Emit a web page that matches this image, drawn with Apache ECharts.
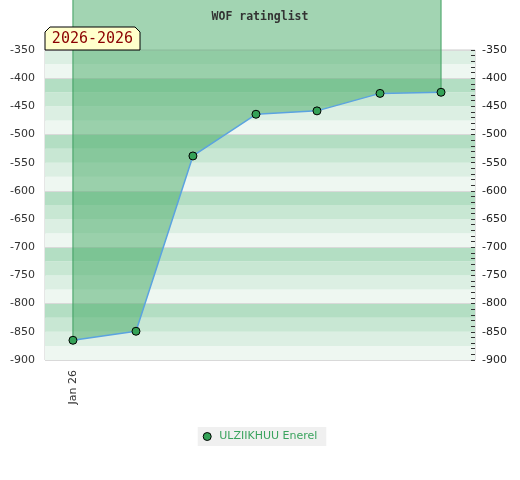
<!DOCTYPE html>
<html>
<head>
<meta charset="utf-8">
<script src="https://cdn.jsdelivr.net/npm/echarts@6/dist/echarts.min.js"></script>
<style>html,body{margin:0;padding:0;background:#fff;}#c{width:520px;height:480px;}</style>
</head>
<body>
<div id="c"></div>
<script>
// ---- data ----
const dates = ['2026-01-01','2026-02-01','2026-03-01','2026-04-01','2026-05-01','2026-06-01','2026-07-01'];
const ratings = [-865, -849, -538, -464, -458, -427, -425];
const seriesName = 'ULZIIKHUU Enerel';
const yTicks = [-900,-850,-800,-750,-700,-650,-600,-550,-500,-450,-400,-350];
const xTickDates = ['2026-01-01'];
const xTickLabels = ['Jan 26'];
const xMin = '2025-12-18 06:00';
const xMax = '2026-07-17 17:00';
const areaOrigin = 0;
const titleText = 'WOF ratinglist';
const periodText = '2026-2026';

function toTime(s){ const p = s.split(/[- :]/).map(Number); return new Date(p[0], p[1]-1, p[2], p[3]||0, p[4]||0).getTime(); }
const points = dates.map((d,i)=>[toTime(d), ratings[i]]);
const xTickValues = xTickDates.map(toTime);
const last = points.length - 1;

const chart = echarts.init(document.getElementById('c'));
const font = 'DejaVu Sans';
chart.setOption({
  animation: false,
  title: {
    text: titleText, left: 'center', top: 6, z: 50,
    textStyle: {fontFamily: 'DejaVu Sans Mono', fontWeight: 'bold', fontSize: 11.5, color: '#333'}
  },
  grid: {left: 45, right: 45, top: 50, bottom: 120, show: true, borderColor: '#cccccc', borderWidth: 1, backgroundColor: 'transparent'},
  xAxis: {
    type: 'time', min: toTime(xMin), max: toTime(xMax),
    axisLine: {show: false}, axisTick: {show: false}, splitLine: {show: false},
    axisLabel: {
      rotate: 90, margin: 10, hideOverlap: false, showMinLabel: false, showMaxLabel: false,
      fontFamily: font, fontSize: 11, color: '#333',
      formatter: function(v){ const t = (typeof v === 'object' && v) ? v.value : v; const i = xTickValues.indexOf(+t); return i >= 0 ? xTickLabels[i] : ''; }
    }
  },
  yAxis: [
    {
      type: 'value', position: 'left', min: yTicks[0], max: yTicks[yTicks.length-1], interval: 50,
      axisLine: {show: false}, axisTick: {show: false}, splitLine: {show: false},
      axisLabel: {fontFamily: font, fontSize: 11, color: '#333', margin: 10}
    },
    {
      type: 'value', position: 'right', min: yTicks[0], max: yTicks[yTicks.length-1], interval: 50,
      axisLine: {show: false},
      axisTick: {show: true, inside: true, length: 4, lineStyle: {color: '#333'}},
      minorTick: {show: true, splitNumber: 5, length: 4, lineStyle: {color: '#333'}},
      splitLine: {show: false},
      axisLabel: {fontFamily: font, fontSize: 11, color: '#222', margin: 7}
    },
    {
      type: 'value', position: 'left', min: yTicks[0], max: yTicks[yTicks.length-1], interval: 25,
      axisLine: {show: false}, axisTick: {show: false}, axisLabel: {show: false}, splitLine: {show: false},
      splitArea: {show: true, areaStyle: {color: ['#eef7f1', '#dcefe3', '#c8e7d3', '#b3dec3']}}
    },
    {
      type: 'value', position: 'left', min: yTicks[0], max: yTicks[yTicks.length-1], interval: 100,
      axisLine: {show: false}, axisTick: {show: false}, axisLabel: {show: false},
      splitLine: {show: true, lineStyle: {color: '#d9d9d9', width: 1}}
    }
  ],
  legend: {
    data: [seriesName], bottom: 34, left: 'center',
    backgroundColor: '#f0f0f0', padding: [3, 9, 3, 5],
    icon: 'circle', itemWidth: 14, itemHeight: 8,
    itemStyle: {borderColor: '#000', borderWidth: 1},
    textStyle: {fontFamily: font, fontSize: 11, color: '#3aa35e', lineHeight: 13}
  },
  series: [
    {
      name: 'edgeL', type: 'line', clip: false, silent: true, symbol: 'none', z: 2,
      data: [[points[0][0], areaOrigin], points[0]],
      lineStyle: {color: '#3a9a5c', width: 1}
    },
    {
      name: 'edgeR', type: 'line', clip: false, silent: true, symbol: 'none', z: 2,
      data: [[points[last][0], areaOrigin], points[last]],
      lineStyle: {color: '#3a9a5c', width: 1}
    },
    {
      name: seriesName, type: 'line', clip: false, z: 3,
      data: points,
      symbol: 'circle', symbolSize: 8,
      itemStyle: {color: '#34a257', borderColor: '#000', borderWidth: 1},
      lineStyle: {color: '#5ba3e0', width: 1.5},
      areaStyle: {color: 'rgb(70,170,102)', opacity: 0.5, origin: areaOrigin}
    }
  ],
  graphic: [
    {type: 'polygon', z: 100, zlevel: 1, shape: {points: [[45,50],[45,32],[50,27],[135,27],[140,32],[140,50]]},
     style: {fill: '#ffffcc', stroke: '#000', lineWidth: 1}},
    {type: 'text', z: 101, zlevel: 1, x: 92.5, y: 39.5,
     style: {text: periodText, fill: '#8b0000', font: '15px "DejaVu Sans Mono"', align: 'center', verticalAlign: 'middle'}}
  ]
});
</script>
</body>
</html>
